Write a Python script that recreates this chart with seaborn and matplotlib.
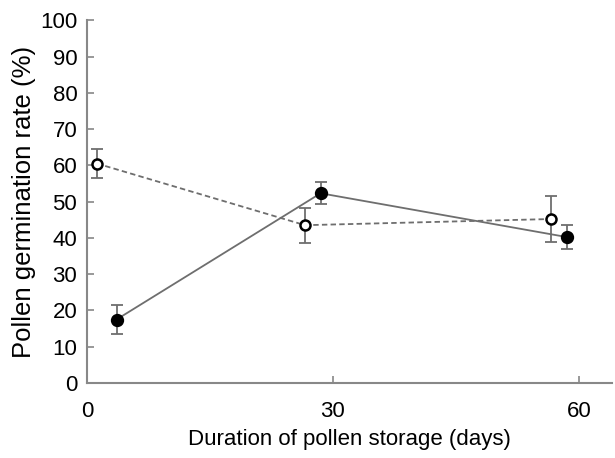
import numpy as np
import pandas as pd
import matplotlib
matplotlib.use('Agg')
import matplotlib.pyplot as plt
import seaborn as sns

# filled circles (solid line)
days_a = [3.6, 28.5, 58.6]
rate_a = [17.5, 52.3, 40.2]
err_a = [4.0, 3.0, 3.3]

# open circles (dashed line)
days_b = [1.2, 26.6, 56.6]
rate_b = [60.5, 43.5, 45.2]
err_b = [4.0, 4.8, 6.3]

sns.set_style('ticks')
plt.rcParams['font.family'] = ['Liberation Sans', 'DejaVu Sans']
plt.rcParams['text.color'] = 'black'
plt.rcParams['axes.labelcolor'] = 'black'
plt.rcParams['xtick.labelcolor'] = 'black'
plt.rcParams['ytick.labelcolor'] = 'black'

df = pd.DataFrame({
    'days': days_a + days_b,
    'rate': rate_a + rate_b,
    'group': ['a'] * 3 + ['b'] * 3,
})

fig = plt.figure(figsize=(6.15, 4.58), dpi=100)
ax = fig.add_axes([0.1415, 0.1638, 0.853, 0.792])

line_col = '#6e6e6e'
ax.errorbar(days_a, rate_a, yerr=err_a, fmt='none', ecolor=line_col,
            elinewidth=1.3, capsize=4, capthick=1.3, zorder=2)
ax.errorbar(days_b, rate_b, yerr=err_b, fmt='none', ecolor=line_col,
            elinewidth=1.3, capsize=4, capthick=1.3, zorder=2)

sns.lineplot(data=df, x='days', y='rate', hue='group', style='group',
             palette=[line_col, line_col], dashes=[(None, None), (3, 1.8)],
             linewidth=1.3, legend=False, ax=ax, zorder=3)

sns.scatterplot(x=days_a, y=rate_a, color='black', edgecolor='black',
                s=70, linewidth=1.2, ax=ax, zorder=4)
sns.scatterplot(x=days_b, y=rate_b, color='white', edgecolor='black',
                s=52, linewidth=1.8, ax=ax, zorder=4)

ax.set_xlim(0, 64)
ax.set_ylim(0, 100)
ax.set_xticks([0, 30, 60])
ax.set_yticks(np.arange(0, 101, 10))
ax.set_xlabel('Duration of pollen storage (days)', fontsize=16, labelpad=5,
              color='black')
ax.set_ylabel('Pollen germination rate (%)', fontsize=18.5, labelpad=3,
              color='black')
ax.tick_params(direction='in', length=5, width=1.2, color='#888888',
               labelsize=16, labelcolor='black')
ax.tick_params(axis='x', pad=13)
ax.tick_params(axis='y', pad=7)
sns.despine(ax=ax)
for s in ['left', 'bottom']:
    ax.spines[s].set_color('#888888')
    ax.spines[s].set_linewidth(1.5)

fig.savefig('out.png', dpi=100)
